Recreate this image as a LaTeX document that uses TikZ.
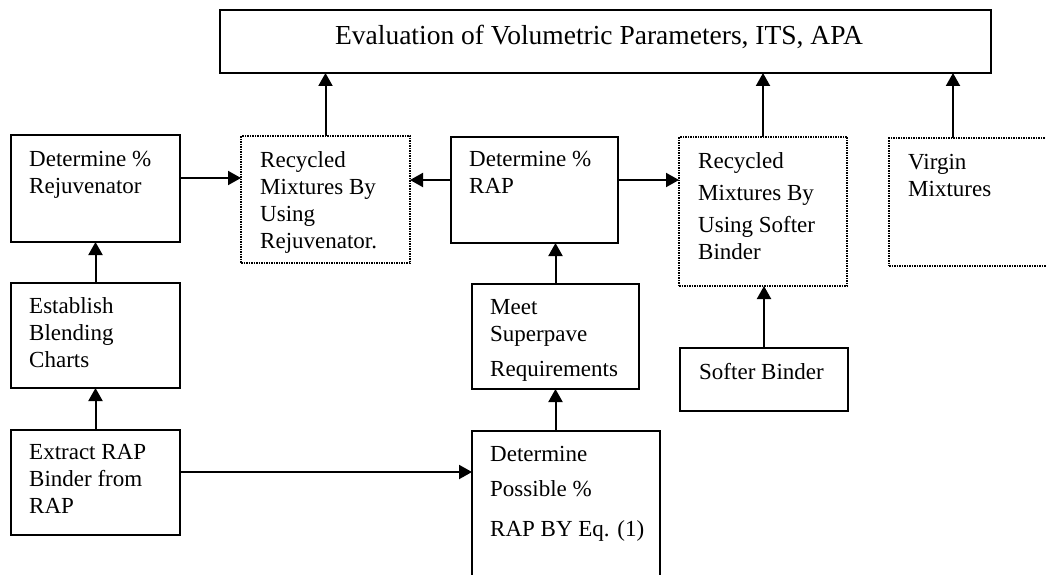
\documentclass[tikz,border=0pt]{standalone}
\usepackage{fontspec}
\setmainfont{Liberation Serif}
\usetikzlibrary{arrows.meta}
\begin{document}
\begin{tikzpicture}[x=1pt,y=-1pt,
  box/.style={draw,line width=2.2pt,rectangle,inner sep=0pt,outer sep=0pt,anchor=north west},
  dotbox/.style={draw,line width=2.2pt,dash pattern=on 1.5pt off 1pt,rectangle,inner sep=0pt,outer sep=0pt,anchor=north west},
  txt/.style={anchor=north west,align=left,inner sep=0pt,font=\fontsize{23}{27}\selectfont},
  arr/.style={line width=2pt,-{Triangle[length=13pt,width=14pt]}}]
\useasboundingbox (0,0) rectangle (1046,575);
\clip (0,0) rectangle (1046,575);
% boxes
\node[box,minimum width=771pt,minimum height=63pt] (top) at (220,10) {};
\node[box,minimum width=169pt,minimum height=107pt] (detRej) at (11,135) {};
\node[dotbox,minimum width=169pt,minimum height=127pt] (recRej) at (241,136) {};
\node[box,minimum width=167pt,minimum height=106pt] (detRAP) at (451,137) {};
\node[dotbox,minimum width=168pt,minimum height=149pt] (recSoft) at (679,137) {};
\node[dotbox,minimum width=200pt,minimum height=128pt] (virgin) at (889,138) {};
\node[box,minimum width=169pt,minimum height=105pt] (estab) at (11,283) {};
\node[box,minimum width=167pt,minimum height=105pt] (meet) at (472,284) {};
\node[box,minimum width=168pt,minimum height=63pt] (softer) at (680,348) {};
\node[box,minimum width=169pt,minimum height=105pt] (extract) at (11,430) {};
\node[box,minimum width=188pt,minimum height=180pt] (detPoss) at (472,431) {};
% texts
\node[anchor=base,inner sep=0pt,font=\fontsize{27.5}{33}\selectfont] (topT) at (599,45) {Evaluation of Volumetric Parameters, ITS, APA};
\node[txt] (detRejT) at (29,151) {Determine \%\\Rejuvenator};
\node[txt] (recRejT) at (260,151) {Recycled\\Mixtures By\\Using\\Rejuvenator.};
\node[txt] (detRAPT) at (469,151) {Determine \%\\RAP};
\node[txt] (recSoftT) at (698,152) {Recycled\\[5pt]Mixtures By\\[5pt]Using Softer\\Binder};
\node[txt] (virginT) at (908,154) {Virgin\\Mixtures};
\node[txt] (estabT) at (29,297) {Establish\\Blending\\Charts};
\node[txt] (meetT) at (490,299) {Meet\\Superpave\\[8pt]Requirements};
\node[txt] (softerT) at (699,363) {Softer Binder};
\node[txt] (extractT) at (29,444) {Extract RAP\\Binder from\\RAP};
\node[txt] (detPossT) at (490,446) {Determine\\[8pt]Possible \%\\[13pt]RAP BY Eq. (1)};
% helper coordinates
\coordinate (vtop) at (953,138);
\coordinate (yA) at (0,178);
\coordinate (yB) at (0,180);
\coordinate (yC) at (0,472);
% connectors
\draw[arr] (recRej.north) -- (recRej.north |- top.south);
\draw[arr] (recSoft.north) -- (recSoft.north |- top.south);
\draw[arr] (vtop) -- (vtop |- top.south);
\draw[arr] (detRej.east |- yA) -- (recRej.west |- yA);
\draw[arr] (detRAP.west |- yB) -- (recRej.east |- yB);
\draw[arr] (detRAP.east |- yB) -- (recSoft.west |- yB);
\draw[arr] (estab.north) -- (detRej.south);
\draw[arr] (extract.north) -- (estab.south);
\draw[arr] (meet.north) -- (meet.north |- detRAP.south);
\draw[arr] (meet.south |- detPoss.north) -- (meet.south);
\draw[arr] (softer.north) -- (softer.north |- recSoft.south);
\draw[arr] (extract.east |- yC) -- (detPoss.west |- yC);
\end{tikzpicture}
\end{document}
